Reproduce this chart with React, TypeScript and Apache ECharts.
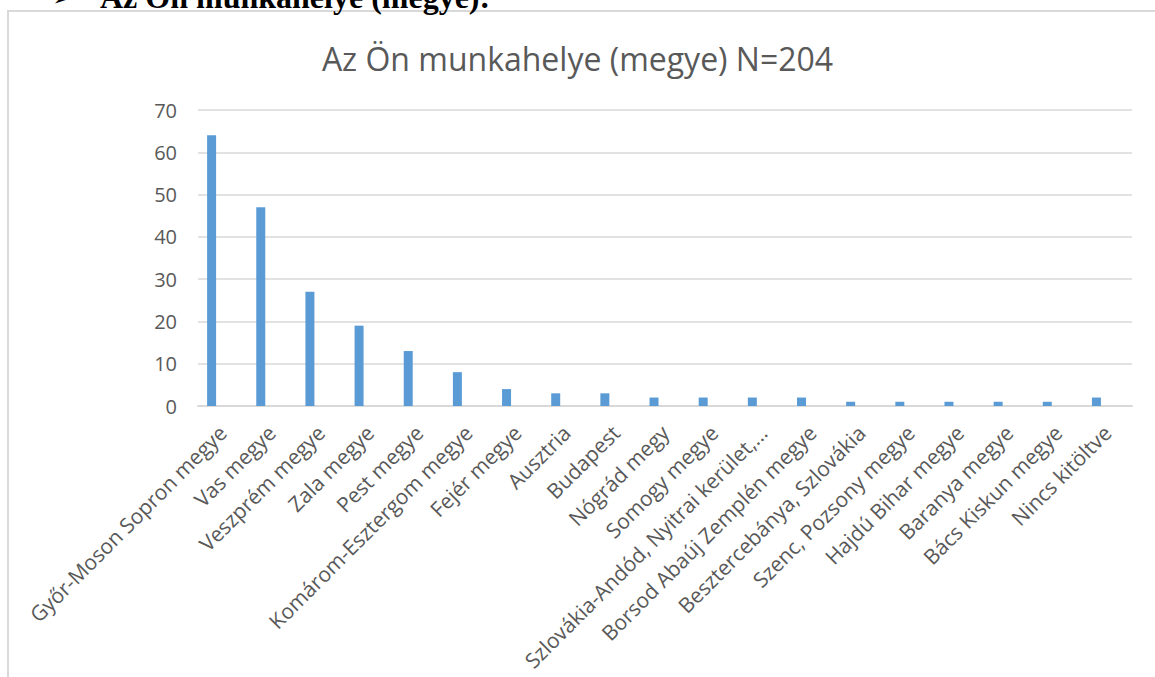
import React, { useEffect, useRef } from "react";
import * as echarts from "echarts";

const headingArrow = "➢";
const heading = "Az Ön munkahelye (megye):";
const chartTitle = "Az Ön munkahelye (megye) N=204";
const categories = [
  "Győr-Moson Sopron megye",
  "Vas megye",
  "Veszprém megye",
  "Zala megye",
  "Pest megye",
  "Komárom-Esztergom megye",
  "Fejér megye",
  "Ausztria",
  "Budapest",
  "Nógrád megy",
  "Somogy megye",
  "Szlovákia-Andód, Nyitrai kerület,...",
  "Borsod Abaúj Zemplén megye",
  "Besztercebánya, Szlovákia",
  "Szenc, Pozsony megye",
  "Hajdú Bihar megye",
  "Baranya megye",
  "Bács Kiskun megye",
  "Nincs kitöltve",
];
const counts = [64, 47, 27, 19, 13, 8, 4, 3, 3, 2, 2, 2, 2, 1, 1, 1, 1, 1, 2];
const emptySeries = categories.map(() => "-");
const yTicks = { min: 0, max: 70, interval: 10 };

export default function App() {
  const ref = useRef<HTMLDivElement>(null);
  useEffect(() => {
    if (!ref.current) return;
    const chart = echarts.init(ref.current, undefined, { renderer: "svg" });
    const textColor = "#595959";
    chart.setOption({
      animation: false,
      backgroundColor: "#ffffff",
      title: {
        text: chartTitle,
        left: "center",
        top: 37,
        textStyle: {
          fontFamily: "Open Sans",
          fontSize: 32,
          fontWeight: "normal",
          color: textColor,
        },
      },
      graphic: [
        {
          type: "rect",
          shape: { x: 8, y: 11, width: 1200, height: 720 },
          style: { fill: "none", stroke: "#d9d9d9", lineWidth: 2 },
          silent: true,
        },
        {
          type: "text",
          x: 52,
          y: -3,
          style: {
            text: headingArrow,
            font: "bold 26px 'DejaVu Sans', sans-serif",
            fill: "#000000",
            verticalAlign: "middle",
            align: "left",
          },
        },
        {
          type: "text",
          x: 100,
          y: -3,
          style: {
            text: heading,
            font: "bold 32px 'Liberation Serif', 'DejaVu Serif', serif",
            fill: "#000000",
            verticalAlign: "middle",
            align: "left",
          },
        },
      ],
      grid: { left: 198, right: 23, top: 110, bottom: 271, containLabel: false },
      xAxis: {
        type: "category",
        data: categories,
        axisLine: { lineStyle: { color: "#d9d9d9", width: 2 } },
        axisTick: { show: false },
        axisLabel: {
          interval: 0,
          rotate: 45,
          margin: 23,
          color: textColor,
          fontFamily: "Open Sans",
          fontSize: 21,
        },
      },
      yAxis: {
        type: "value",
        min: yTicks.min,
        max: yTicks.max,
        interval: yTicks.interval,
        axisLine: { show: false },
        axisTick: { show: false },
        splitLine: { lineStyle: { color: "#d9d9d9", width: 1.5 } },
        axisLabel: {
          color: textColor,
          fontFamily: "Open Sans",
          fontSize: 20,
          margin: 21,
        },
      },
      series: [
        {
          type: "bar",
          data: counts,
          barWidth: 9,
          barGap: "144%",
          itemStyle: { color: "#5b9bd5" },
        },
        {
          type: "bar",
          data: emptySeries,
          barWidth: 9,
          itemStyle: { color: "#ed7d31" },
        },
      ],
    });
    return () => chart.dispose();
  }, []);
  return (
    <div
      ref={ref}
      style={{ position: "fixed", left: 0, top: 0, width: 1155, height: 677 }}
    />
  );
}
